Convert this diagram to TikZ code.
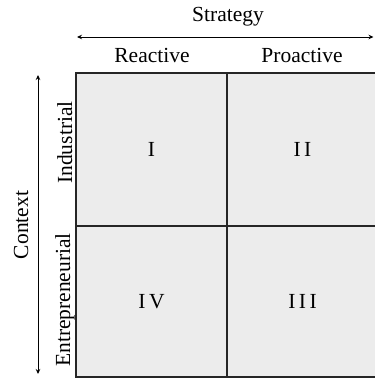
\documentclass[tikz,border=0pt]{standalone}
\usepackage{fontspec}
\setmainfont{Liberation Serif}
\usetikzlibrary{arrows.meta}
\definecolor{cellgray}{HTML}{ECECEC}
\tikzset{
  lbl/.style={font=\fontsize{21.5}{26}\selectfont, inner sep=0pt, anchor=base},
  cell/.style={draw=black!85, line width=1.1pt, fill=cellgray, inner sep=0pt,
    font=\fontsize{21.5}{26}\selectfont, rectangle},
  axis/.style={line width=0.9pt, {Stealth[length=5pt,width=4.5pt]}-{Stealth[length=5pt,width=4.5pt]}}
}
\newcommand{\spc}{\kern3.5pt}
\begin{document}
\begin{tikzpicture}[x=1pt,y=-1pt]
\useasboundingbox (0,0) rectangle (374,379);
% cells
\node[cell, minimum width=151pt, minimum height=153pt] (c1) at (151.5,149.5) {I};
\node[cell, minimum width=151pt, minimum height=153pt] (c2) at (302.5,149.5) {I\spc I};
\node[cell, minimum width=151pt, minimum height=151pt] (c4) at (151.5,301.5) {I\spc V};
\node[cell, minimum width=151pt, minimum height=151pt] (c3) at (302.5,301.5) {I\spc I\spc I};
% axis labels
\node[lbl] (strat) at (228,22) {Strategy};
\node[lbl] (react) at (152,63) {Reactive};
\node[lbl] (proact) at (302,63) {Proactive};
\node[lbl, rotate=90] (ctx) at (28,225) {Context};
\node[lbl, rotate=90] (ind) at (72,142.5) {Industrial};
\node[lbl, rotate=90] (ent) at (70,300) {Entrepreneurial};
% arrows
\coordinate (hl) at (77,37);
\coordinate (hr) at (373.5,37);
\coordinate (vt) at (38,75);
\coordinate (vb) at (38,374);
\draw[axis] (hl) -- (hr);
\draw[axis] (vt) -- (vb);
\end{tikzpicture}
\end{document}
